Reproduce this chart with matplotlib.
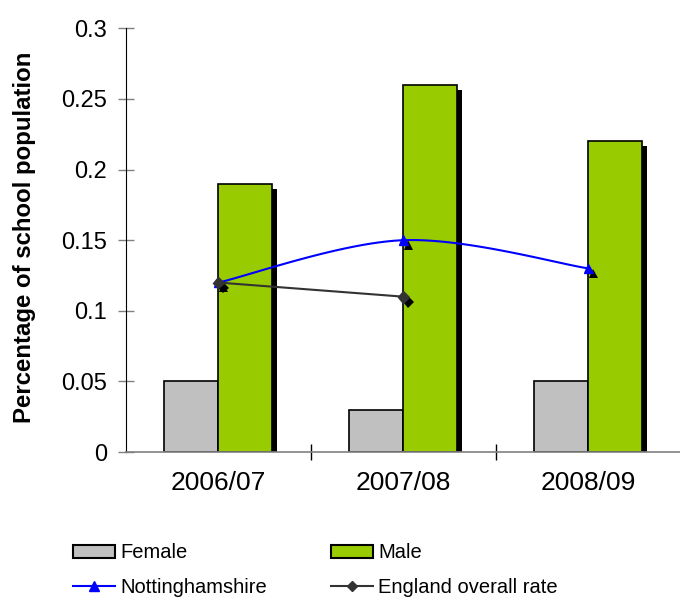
import matplotlib
matplotlib.use("Agg")
import matplotlib.pyplot as plt
import matplotlib.patheffects as pe
from matplotlib.lines import Line2D
from matplotlib.patches import Patch
import numpy as np

plt.rcParams["font.family"] = ["Liberation Sans", "DejaVu Sans"]

years = ["2006/07", "2007/08", "2008/09"]
female = [0.05, 0.03, 0.05]
male = [0.19, 0.26, 0.22]
notts = [0.12, 0.15, 0.13]
england = [0.12, 0.11]

FEMALE_COLOR = "#C0C0C0"
MALE_COLOR = "#99CC00"
NOTTS_COLOR = "#0000FF"
ENG_COLOR = "#333333"


def catmull_rom(xs, ys, steps=40):
    # smooth curve through the points, like spreadsheet "smoothed line"
    xs = np.asarray(xs, dtype=float)
    ys = np.asarray(ys, dtype=float)
    px = np.concatenate([[xs[0]], xs, [xs[-1]]])
    py = np.concatenate([[ys[0]], ys, [ys[-1]]])
    out_x, out_y = [], []
    t = np.linspace(0, 1, steps)
    for i in range(1, len(px) - 2):
        p0x, p1x, p2x, p3x = px[i - 1:i + 3]
        p0y, p1y, p2y, p3y = py[i - 1:i + 3]
        c1x = p1x + (p2x - p0x) / 6
        c1y = p1y + (p2y - p0y) / 6
        c2x = p2x - (p3x - p1x) / 6
        c2y = p2y - (p3y - p1y) / 6
        bx = (1 - t) ** 3 * p1x + 3 * (1 - t) ** 2 * t * c1x + 3 * (1 - t) * t ** 2 * c2x + t ** 3 * p2x
        by = (1 - t) ** 3 * p1y + 3 * (1 - t) ** 2 * t * c1y + 3 * (1 - t) * t ** 2 * c2y + t ** 3 * p2y
        out_x.extend(bx)
        out_y.extend(by)
    return np.array(out_x), np.array(out_y)


fig = plt.figure(figsize=(6.8, 5.98), dpi=100)
ax = fig.add_axes([0.1853, 0.2441, 0.816, 0.7085])

x = np.arange(len(years))
w = 0.292
shadow = [pe.SimplePatchShadow(offset=(3.6, -3.6), shadow_rgbFace="black", alpha=1.0), pe.Normal()]

ax.bar(x - w / 2, female, w, color=FEMALE_COLOR, edgecolor="black", linewidth=1.2,
       path_effects=shadow, zorder=2)
ax.bar(x + w / 2, male, w, color=MALE_COLOR, edgecolor="black", linewidth=1.2,
       path_effects=shadow, zorder=2)

sx, sy = catmull_rom(x, notts)
ax.plot(sx, sy, color=NOTTS_COLOR, linewidth=1.5, zorder=3)
ax.plot(x, notts, linestyle="none", marker="^", markersize=7, color=NOTTS_COLOR,
        path_effects=shadow, zorder=4)

ex = x[:len(england)]
ax.plot(ex, england, color=ENG_COLOR, linewidth=1.5, zorder=3)
ax.plot(ex, england, linestyle="none", marker="D", markersize=6, color=ENG_COLOR,
        path_effects=shadow, zorder=4)

ax.set_xlim(-0.5, 2.5)
ax.set_ylim(0, 0.3)
ax.set_yticks([0, 0.05, 0.1, 0.15, 0.2, 0.25, 0.3])
ax.set_yticklabels(["0", "0.05", "0.1", "0.15", "0.2", "0.25", "0.3"])
ax.tick_params(axis="y", direction="inout", length=11.5, width=1, color="#808080",
               labelsize=17, pad=8)

ax.set_xticks(x)
ax.set_xticklabels(years)
ax.set_xticks([0.5, 1.5], minor=True)
ax.tick_params(axis="x", which="major", length=0, labelsize=19, pad=14)
ax.tick_params(axis="x", which="minor", direction="inout", length=11.5, width=1, color="black")

for side in ["top", "right"]:
    ax.spines[side].set_visible(False)
ax.spines["left"].set_color("black")
ax.spines["bottom"].set_color("#808080")
ax.spines["bottom"].set_linewidth(1.2)

ax.set_ylabel("Percentage of school population", fontsize=17.3, fontweight="bold")
ax.yaxis.set_label_coords(-0.162, 0.506)

handles = [
    Patch(facecolor=FEMALE_COLOR, edgecolor="black", linewidth=1.5),
    Line2D([], [], color=NOTTS_COLOR, marker="^", markersize=7, linewidth=1.5),
    Patch(facecolor=MALE_COLOR, edgecolor="black", linewidth=1.5),
    Line2D([], [], color=ENG_COLOR, marker="D", markersize=5, linewidth=1.5),
]
labels = ["Female", "Nottinghamshire", "Male", "England overall rate"]
fig.legend(handles, labels, ncol=2, loc="upper left", bbox_to_anchor=(0.093, 0.108),
           frameon=False, fontsize=14.5, handlelength=2.08, handleheight=0.6,
           handletextpad=0.25, columnspacing=3.2, labelspacing=0.75, borderpad=0)

fig.savefig("out.png", dpi=100)
